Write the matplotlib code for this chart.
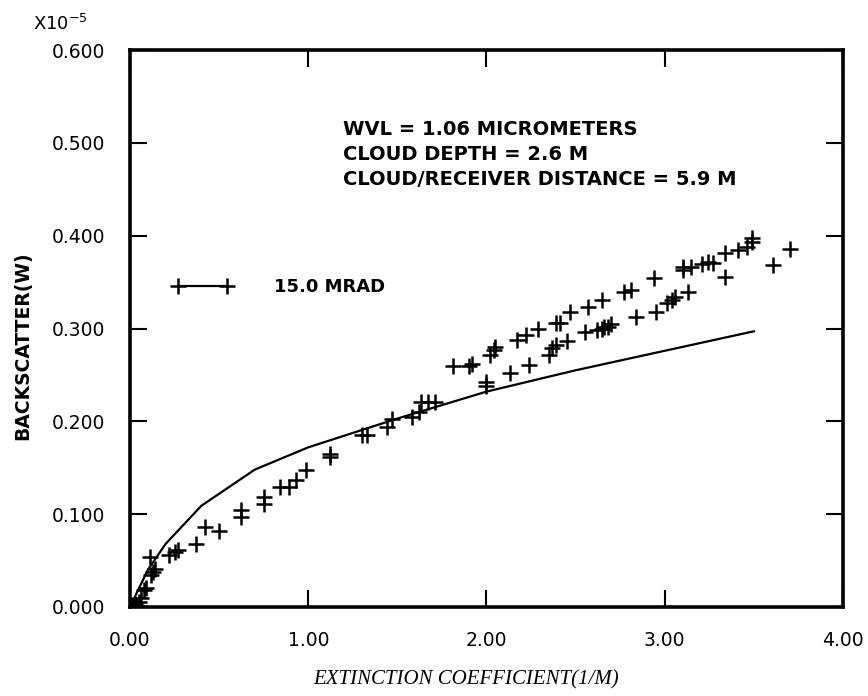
import matplotlib
matplotlib.use("Agg")
import matplotlib.pyplot as plt
from matplotlib.lines import Line2D

# model curve (solid line)
line_x = [0.0, 0.05, 0.10, 0.15, 0.20, 0.40, 0.70, 1.00, 1.50, 2.00, 2.50, 3.00, 3.50]
line_y = [0.0, 0.020, 0.040, 0.054, 0.068, 0.109, 0.148, 0.172, 0.203, 0.232, 0.255, 0.276, 0.297]

# measured points (+ markers)
meas_x = [0.00, 0.01, 0.02, 0.03, 0.04, 0.05, 0.06, 0.08, 0.09, 0.12, 0.13, 0.14,
          0.11, 0.22, 0.25, 0.27, 0.37, 0.42, 0.50, 0.62, 0.62, 0.75, 0.75,
          0.84, 0.89, 0.93, 0.99, 1.12, 1.12, 1.30, 1.33, 1.44, 1.47, 1.58,
          1.62, 1.63, 1.67, 1.71, 1.81, 1.90, 1.92, 2.00, 2.00, 2.02, 2.04,
          2.05, 2.13, 2.17, 2.22, 2.24, 2.29, 2.35, 2.37, 2.39, 2.39, 2.41,
          2.45, 2.47, 2.57, 2.55, 2.62, 2.65, 2.68, 2.70, 2.84, 2.65, 2.66,
          2.77, 2.81, 2.95, 2.94, 3.01, 3.04, 3.06, 3.10, 3.10, 3.13, 3.15,
          3.21, 3.24, 3.27, 3.34, 3.34, 3.41, 3.46, 3.49, 3.49, 3.61, 3.70]
meas_y = [0.000, 0.002, 0.000, 0.003, 0.001, 0.005, 0.010, 0.018, 0.020, 0.035, 0.038, 0.041,
          0.054, 0.056, 0.059, 0.061, 0.068, 0.086, 0.082, 0.104, 0.097, 0.119, 0.111,
          0.129, 0.129, 0.137, 0.148, 0.162, 0.165, 0.185, 0.185, 0.194, 0.202, 0.205,
          0.210, 0.221, 0.221, 0.221, 0.260, 0.260, 0.262, 0.238, 0.242, 0.271, 0.277,
          0.280, 0.252, 0.288, 0.293, 0.261, 0.299, 0.271, 0.279, 0.282, 0.306, 0.306,
          0.286, 0.318, 0.323, 0.296, 0.298, 0.300, 0.302, 0.305, 0.312, 0.331, 0.302,
          0.339, 0.342, 0.318, 0.354, 0.327, 0.331, 0.334, 0.363, 0.366, 0.339, 0.366,
          0.370, 0.372, 0.371, 0.356, 0.381, 0.385, 0.388, 0.393, 0.397, 0.368, 0.386]

x_ticks = [0, 1, 2, 3, 4]
x_labels = ["0.00", "1.00", "2.00", "3.00", "4.00"]
y_ticks = [0.0, 0.1, 0.2, 0.3, 0.4, 0.5, 0.6]
y_labels = ["0.000", "0.100", "0.200", "0.300", "0.400", "0.500", "0.600"]

fig = plt.figure(figsize=(8.68, 6.96), dpi=100)
ax = fig.add_axes([130 / 868, 1 - 607 / 696, 713 / 868, 557 / 696])

ax.plot(line_x, line_y, color="black", lw=1.6)
ax.plot(meas_x, meas_y, linestyle="none", marker="+", color="black", ms=11, mew=1.8)

ax.set_xlim(0, 4)
ax.set_ylim(0, 0.6)
ax.set_xticks(x_ticks)
ax.set_xticklabels(x_labels)
ax.set_yticks(y_ticks)
ax.set_yticklabels(y_labels)
ax.tick_params(direction="in", length=12, width=1.5, top=True, right=True,
               labelsize=13.5, colors="black")
ax.tick_params(axis="y", pad=18)
ax.tick_params(axis="x", pad=17)
for s in ax.spines.values():
    s.set_linewidth(2.6)

handle = Line2D([], [], color="black", marker="+", ms=11, mew=1.8, lw=1.6)
ax.legend([handle], ["15.0 MRAD"], numpoints=2, frameon=False, loc="center left",
          bbox_to_anchor=(0.06, 0.574), borderpad=0, borderaxespad=0,
          handlelength=3.3, handletextpad=2.3, prop={"weight": "bold", "size": 13})

ax.text(0.299, 0.874,
        "WVL = 1.06 MICROMETERS\nCLOUD DEPTH = 2.6 M\nCLOUD/RECEIVER DISTANCE = 5.9 M",
        transform=ax.transAxes, va="top", ha="left", fontsize=14, fontweight="bold",
        linespacing=1.4)

fig.text(33 / 868, 1 - 30 / 696, r"X10$^{-5}$", fontsize=13, ha="left", va="baseline")
fig.text(23 / 868, 1 - 346 / 696, "BACKSCATTER(W)", rotation=90, fontsize=13.5,
         fontweight="bold", ha="center", va="center")
fig.text(466 / 868, 1 - 680 / 696, "EXTINCTION COEFFICIENT(1/M)", fontsize=15,
         family="Liberation Serif", style="italic", ha="center", va="center")

fig.savefig("out.png", dpi=100)
